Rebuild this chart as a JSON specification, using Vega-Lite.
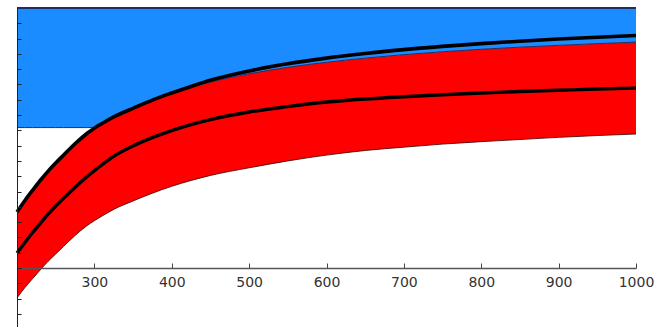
{
  "$schema": "https://vega.github.io/schema/vega-lite/v6.json",
  "autosize": "none",
  "width": 619,
  "height": 319,
  "padding": {"left": 17, "top": 8, "right": 36, "bottom": 0},
  "background": "white",
  "config": {"view": {"stroke": null}},
  "data": {"values": [
    {"x": 200, "upper": 3.66, "redtop": 3.66, "bluebot": 9.18, "middle": 0.98, "lower": -1.96},
    {"x": 210, "upper": 4.4, "redtop": 4.4, "bluebot": 9.18, "middle": 1.65, "lower": -1.3},
    {"x": 220, "upper": 5.07, "redtop": 5.07, "bluebot": 9.18, "middle": 2.3, "lower": -0.71},
    {"x": 230, "upper": 5.72, "redtop": 5.72, "bluebot": 9.18, "middle": 2.9, "lower": -0.13},
    {"x": 240, "upper": 6.32, "redtop": 6.32, "bluebot": 9.18, "middle": 3.5, "lower": 0.42},
    {"x": 250, "upper": 6.86, "redtop": 6.86, "bluebot": 9.18, "middle": 4.05, "lower": 0.91},
    {"x": 260, "upper": 7.37, "redtop": 7.37, "bluebot": 9.18, "middle": 4.55, "lower": 1.4},
    {"x": 275, "upper": 8.12, "redtop": 8.12, "bluebot": 9.18, "middle": 5.27, "lower": 2.12},
    {"x": 290, "upper": 8.78, "redtop": 8.78, "bluebot": 9.18, "middle": 5.95, "lower": 2.75},
    {"x": 300, "upper": 9.14, "redtop": 9.14, "bluebot": 9.18, "middle": 6.36, "lower": 3.09},
    {"x": 301, "upper": 9.18, "redtop": 9.18, "bluebot": 9.18, "middle": 6.4, "lower": 3.12},
    {"x": 310, "upper": 9.45, "redtop": 9.45, "bluebot": 9.45, "middle": 6.75, "lower": 3.4},
    {"x": 325, "upper": 9.88, "redtop": 9.88, "bluebot": 9.88, "middle": 7.3, "lower": 3.83},
    {"x": 350, "upper": 10.44, "redtop": 10.44, "bluebot": 10.44, "middle": 7.98, "lower": 4.38},
    {"x": 375, "upper": 10.98, "redtop": 10.98, "bluebot": 10.98, "middle": 8.52, "lower": 4.89},
    {"x": 400, "upper": 11.44, "redtop": 11.4, "bluebot": 11.4, "middle": 8.98, "lower": 5.34},
    {"x": 425, "upper": 11.87, "redtop": 11.79, "bluebot": 11.79, "middle": 9.37, "lower": 5.72},
    {"x": 450, "upper": 12.27, "redtop": 12.15, "bluebot": 12.15, "middle": 9.7, "lower": 6.05},
    {"x": 500, "upper": 12.88, "redtop": 12.7, "bluebot": 12.7, "middle": 10.2, "lower": 6.55},
    {"x": 550, "upper": 13.35, "redtop": 13.12, "bluebot": 13.12, "middle": 10.55, "lower": 7.0},
    {"x": 600, "upper": 13.72, "redtop": 13.45, "bluebot": 13.45, "middle": 10.85, "lower": 7.38},
    {"x": 650, "upper": 14.02, "redtop": 13.72, "bluebot": 13.72, "middle": 11.05, "lower": 7.68},
    {"x": 700, "upper": 14.28, "redtop": 13.95, "bluebot": 13.95, "middle": 11.2, "lower": 7.9},
    {"x": 750, "upper": 14.49, "redtop": 14.14, "bluebot": 14.14, "middle": 11.33, "lower": 8.1},
    {"x": 800, "upper": 14.67, "redtop": 14.3, "bluebot": 14.3, "middle": 11.44, "lower": 8.26},
    {"x": 850, "upper": 14.83, "redtop": 14.44, "bluebot": 14.44, "middle": 11.54, "lower": 8.4},
    {"x": 900, "upper": 14.97, "redtop": 14.56, "bluebot": 14.56, "middle": 11.62, "lower": 8.54},
    {"x": 950, "upper": 15.09, "redtop": 14.67, "bluebot": 14.67, "middle": 11.7, "lower": 8.66},
    {"x": 1000, "upper": 15.2, "redtop": 14.77, "bluebot": 14.77, "middle": 11.76, "lower": 8.76}
  ]},
  "layer": [
    {
      "mark": {"type": "area", "color": "#1a8cff", "interpolate": "monotone"},
      "encoding": {
        "x": {
          "field": "x", "type": "quantitative",
          "scale": {"domain": [200, 1000], "nice": false, "zero": false},
          "axis": {
            "title": null, "grid": false, "orient": "bottom", "offset": -59, "zindex": 1,
            "values": [300, 400, 500, 600, 700, 800, 900, 1000], "format": "d", "tickCount": 20,
            "tickSize": -5, "tickColor": "#444", "tickWidth": 1, "labelFlush": false,
            "domainColor": "#555", "domainWidth": 1.5,
            "labelFont": "DejaVu Sans", "labelFontSize": 14, "labelColor": "#333",
            "labelPadding": 12
          }
        },
        "y": {
          "field": "bluebot", "type": "quantitative",
          "scale": {"domain": [-3.86, 17], "nice": false, "zero": false},
          "axis": {
            "title": null, "grid": false, "labels": false, "zindex": 1, "tickCount": 40,
            "values": [-3, -2, -1, 0, 1, 2, 3, 4, 5, 6, 7, 8, 9, 10, 11, 12, 13, 14, 15, 16],
            "tickSize": -4, "tickColor": "#222", "domainColor": "#222", "domainWidth": 1
          }
        },
        "y2": {"datum": 17}
      }
    },
    {
      "mark": {"type": "area", "color": "#ff0000", "interpolate": "monotone"},
      "encoding": {
        "x": {"field": "x", "type": "quantitative"},
        "y": {"field": "redtop", "type": "quantitative"},
        "y2": {"field": "lower"}
      }
    },
    {
      "mark": {"type": "rule", "color": "#1c2f66", "strokeWidth": 1.2},
      "encoding": {"y": {"datum": 17, "type": "quantitative"}}
    },
    {
      "mark": {"type": "line", "color": "#1c2f66", "strokeWidth": 1, "interpolate": "monotone"},
      "encoding": {"x": {"field": "x", "type": "quantitative"}, "y": {"field": "bluebot", "type": "quantitative"}}
    },
    {
      "mark": {"type": "line", "color": "#3a0000", "strokeWidth": 0.8, "interpolate": "monotone"},
      "encoding": {"x": {"field": "x", "type": "quantitative"}, "y": {"field": "lower", "type": "quantitative"}}
    },
    {
      "mark": {"type": "line", "color": "#000000", "strokeWidth": 3.6, "interpolate": "monotone"},
      "encoding": {"x": {"field": "x", "type": "quantitative"}, "y": {"field": "upper", "type": "quantitative"}}
    },
    {
      "mark": {"type": "line", "color": "#000000", "strokeWidth": 3.4, "interpolate": "monotone"},
      "encoding": {"x": {"field": "x", "type": "quantitative"}, "y": {"field": "middle", "type": "quantitative"}}
    }
  ]
}
